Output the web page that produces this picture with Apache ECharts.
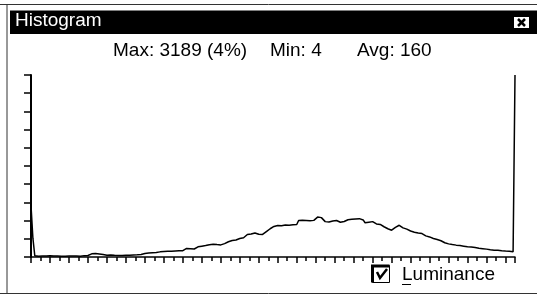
<!DOCTYPE html>
<html>
<head>
<meta charset="utf-8">
<script src="https://cdn.jsdelivr.net/npm/echarts@6/dist/echarts.min.js"></script>
<style>
  html, body { margin: 0; padding: 0; background: #fff; }
  #chart { width: 537px; height: 295px; }
</style>
</head>
<body>
<div id="chart"></div>
<script>
// luminance histogram, one count per level 0..255
const counts = [
  900, 330,
  22, 18, 15, 20, 17, 12, 19, 16, 21, 14, 18, 9, 17, 20, 15, 4, 13, 18, 16, 22, 19, 14, 17, 21, 15, 18, 24, 20, 26,
  48, 55, 42, 60, 38, 52, 58, 44, 36,
  30, 27, 33, 25, 29, 35, 28, 31, 26, 34, 30, 37, 32, 29, 36, 33, 40, 38, 45,
  55, 62, 58, 70, 66, 74, 69, 78,
  84, 90, 86, 95, 92, 99, 94, 102, 97, 105, 100, 108, 104, 110,
  118, 150, 130, 145, 160, 140,
  168, 178, 172, 190, 185, 200, 195, 215, 222,
  225, 210, 218, 205, 212, 208,
  235, 250, 268, 260, 290, 305, 298,
  312, 325, 318, 338, 360,
  395, 410, 402, 418, 422,
  405, 398, 410, 395, 420,
  445, 470, 495, 520, 535, 545,
  552, 560, 548, 556, 562, 550, 558, 553, 565, 556, 570,
  640, 652, 645,
  628, 640, 622, 635, 630, 642, 650,
  700, 725, 690, 670,
  620, 600, 612, 598,
  630, 618, 640, 625, 610, 600, 622,
  640, 652, 630, 660, 645, 668, 655, 672, 660, 650,
  600, 590, 610, 595, 620,
  600, 580, 560, 570, 545, 530, 510, 495, 480, 470,
  458, 520, 545, 556, 535,
  510, 500, 488, 470, 455,
  440, 435, 425, 420, 415, 410,
  395, 370, 360, 352, 340,
  325, 318, 306, 300, 285,
  265, 250, 238, 230, 222,
  218, 212, 208, 205, 200, 196,
  190, 186, 180, 178, 175, 170,
  165, 160, 152, 148, 145, 140, 138,
  132, 128, 125, 120, 122, 118,
  115, 110, 112, 105, 108, 102, 100,
  92,
  3189
]
const levels = counts.map((c, i) => i)
const statsText = ['Max: 3189 (4%)', 'Min: 4', 'Avg: 160']
const windowTitle = 'Histogram'
const channelName = 'Luminance'

const font = '19px "Liberation Sans", Arial, sans-serif'
const chart = echarts.init(document.getElementById('chart'), null, { renderer: 'canvas' })

chart.setOption({
  animation: false,
  backgroundColor: '#fff',
  grid: { left: 31, right: 22, top: 75, bottom: 38 },
  xAxis: {
    type: 'value',
    min: 0,
    max: 255,
    interval: 10,
    axisLine: { show: true, lineStyle: { color: '#000', width: 1.5 } },
    axisTick: { show: true, length: 6, lineStyle: { color: '#000', width: 1.5 } },
    minorTick: { show: true, splitNumber: 2, length: 4, lineStyle: { color: '#000', width: 1.5 } },
    axisLabel: { show: false },
    splitLine: { show: false }
  },
  yAxis: {
    type: 'value',
    min: 0,
    max: 3190,
    interval: 319,
    axisLine: { show: true, lineStyle: { color: '#000', width: 2 } },
    axisTick: { show: true, length: 7, lineStyle: { color: '#000', width: 1.5 } },
    axisLabel: { show: false },
    splitLine: { show: false }
  },
  series: [{
    type: 'line',
    data: levels.map((l, i) => [l, counts[i]]),
    showSymbol: false,
    clip: false,
    lineStyle: { color: '#000', width: 1.5 }
  }],
  graphic: [
    // window frame
    { type: 'line', shape: { x1: 0, y1: 4.5, x2: 537, y2: 4.5 }, style: { stroke: '#333', lineWidth: 1 } },
    { type: 'line', shape: { x1: 7, y1: 4, x2: 7, y2: 294 }, style: { stroke: '#333', lineWidth: 1 } },
    { type: 'line', shape: { x1: 0, y1: 293.5, x2: 537, y2: 293.5 }, style: { stroke: '#333', lineWidth: 1 } },
    // title bar
    { type: 'rect', shape: { x: 10, y: 10.5, width: 527, height: 23.5 }, style: { fill: '#000' } },
    { type: 'text', style: { text: windowTitle, x: 15, y: 21, font: font, fill: '#fff', verticalAlign: 'middle' } },
    { type: 'rect', shape: { x: 514, y: 17, width: 15, height: 11 }, style: { fill: '#fff' } },
    { type: 'line', shape: { x1: 518, y1: 19, x2: 525, y2: 26 }, style: { stroke: '#000', lineWidth: 2.5 } },
    { type: 'line', shape: { x1: 525, y1: 19, x2: 518, y2: 26 }, style: { stroke: '#000', lineWidth: 2.5 } },
    // stats line
    { type: 'text', style: { text: statsText[0], x: 113, y: 51, font: font, fill: '#000', verticalAlign: 'middle' } },
    { type: 'text', style: { text: statsText[1], x: 270, y: 51, font: font, fill: '#000', verticalAlign: 'middle' } },
    { type: 'text', style: { text: statsText[2], x: 357, y: 51, font: font, fill: '#000', verticalAlign: 'middle' } },
    // checkbox + label
    { type: 'rect', shape: { x: 372.5, y: 265.5, width: 17, height: 17 }, style: { fill: '#fff', stroke: '#000', lineWidth: 1 } },
    { type: 'polyline', shape: { points: [[372.5, 282.5], [372.5, 266], [389.5, 266]] }, style: { stroke: '#000', lineWidth: 3, fill: null } },
    { type: 'polyline', shape: { points: [[377, 272], [380, 278], [387, 269]] }, style: { stroke: '#000', lineWidth: 2.5, fill: null } },
    { type: 'text', style: { text: channelName, x: 402, y: 275, font: font, fill: '#000', verticalAlign: 'middle' } },
    { type: 'line', shape: { x1: 402, y1: 284.5, x2: 411, y2: 284.5 }, style: { stroke: '#000', lineWidth: 1 } }
  ]
})
</script>
</body>
</html>
